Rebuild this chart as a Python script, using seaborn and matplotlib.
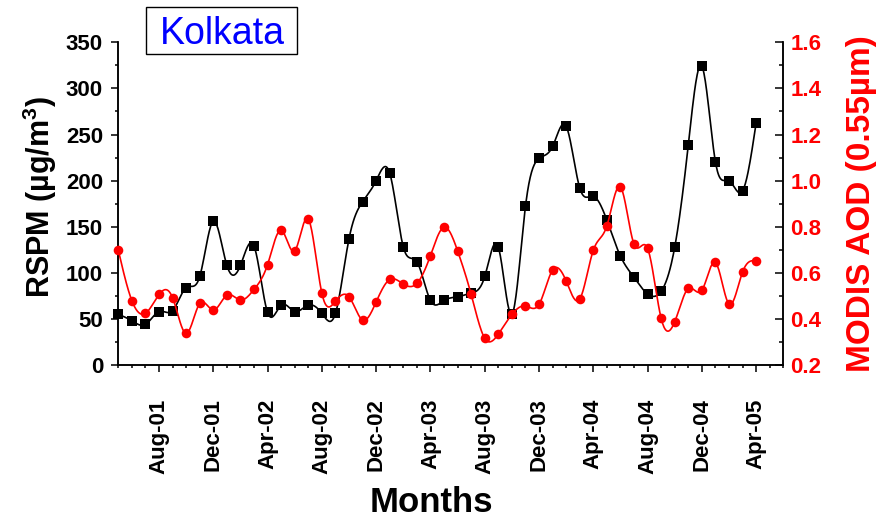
import numpy as np
import pandas as pd
import matplotlib
matplotlib.use("Agg")
import matplotlib.pyplot as plt
from matplotlib.patches import Rectangle
from matplotlib.ticker import MultipleLocator, FixedLocator, FormatStrFormatter
import seaborn as sns

# Monthly observations, May 2001 - Apr 2005
months = pd.date_range("2001-05-01", periods=48, freq="MS")

rspm = [55, 48, 44, 58, 59, 84, 96, 156, 108, 108, 129, 57,
        65, 58, 65, 56, 56, 137, 177, 200, 208, 128, 112, 70,
        70, 74, 78, 96, 128, 55, 172, 224, 237, 259, 192, 183,
        157, 118, 95, 77, 80, 128, 239, 324, 220, 200, 189, 263]

aod = [0.698, 0.479, 0.424, 0.506, 0.492, 0.337, 0.467, 0.438, 0.503, 0.482, 0.528, 0.636,
       0.785, 0.695, 0.834, 0.511, 0.477, 0.496, 0.395, 0.474, 0.571, 0.551, 0.554, 0.675,
       0.798, 0.695, 0.506, 0.316, 0.334, 0.420, 0.456, 0.463, 0.612, 0.564, 0.486, 0.698,
       0.804, 0.973, 0.724, 0.706, 0.402, 0.388, 0.532, 0.524, 0.645, 0.464, 0.604, 0.652]

tick_labels = ["Aug-01", "Dec-01", "Apr-02", "Aug-02", "Dec-02", "Apr-03",
               "Aug-03", "Dec-03", "Apr-04", "Aug-04", "Dec-04", "Apr-05"]

city = "Kolkata"

month_idx = np.arange(len(months))
month_names = [m.strftime("%b-%y") for m in months]
tick_pos = [month_names.index(t) for t in tick_labels]


def smooth_curve(x, y, n=20):
    """Natural cubic spline through equally spaced points, for drawing."""
    x = np.asarray(x, float)
    y = np.asarray(y, float)
    k = len(x)
    h = x[1] - x[0]
    A = np.zeros((k, k))
    b = np.zeros(k)
    A[0, 0] = A[-1, -1] = 1.0
    for i in range(1, k - 1):
        A[i, i - 1], A[i, i], A[i, i + 1] = 1.0, 4.0, 1.0
        b[i] = 6.0 * (y[i + 1] - 2 * y[i] + y[i - 1]) / h**2
    M = np.linalg.solve(A, b)
    xs, ys = [], []
    for i in range(k - 1):
        t = np.linspace(0, h, n, endpoint=False)
        a0 = y[i]
        a1 = (y[i + 1] - y[i]) / h - h * (2 * M[i] + M[i + 1]) / 6
        a2 = M[i] / 2
        a3 = (M[i + 1] - M[i]) / (6 * h)
        xs.append(x[i] + t)
        ys.append(a0 + a1 * t + a2 * t**2 + a3 * t**3)
    xs.append([x[-1]])
    ys.append([y[-1]])
    return np.concatenate(xs), np.concatenate(ys)


sns.set_style("ticks")
plt.rcParams["font.family"] = ["Liberation Sans", "DejaVu Sans"]
plt.rcParams["mathtext.fontset"] = "custom"
plt.rcParams["mathtext.rm"] = "Liberation Sans:bold"
plt.rcParams["mathtext.bf"] = "Liberation Sans:bold"
plt.rcParams["axes.linewidth"] = 1.1
for key in ("text.color", "axes.labelcolor", "axes.edgecolor", "xtick.color", "ytick.color"):
    plt.rcParams[key] = "black"

fig = plt.figure(figsize=(8.77, 5.21), dpi=100)
ax = fig.add_axes([0.1349, 0.2994, 0.7583, 0.6194])
ax2 = ax.twinx()

# RSPM series (left axis)
cx, cy = smooth_curve(month_idx, rspm)
sns.lineplot(x=cx, y=cy, ax=ax, color="black", linewidth=1.2, sort=False, estimator=None)
sns.scatterplot(x=month_idx, y=rspm, ax=ax, marker="s", s=42, color="black",
                linewidth=0, zorder=3, clip_on=False)

# MODIS AOD series (right axis)
cx2, cy2 = smooth_curve(month_idx, aod)
sns.lineplot(x=cx2, y=cy2, ax=ax2, color="#ff0000", linewidth=1.2, sort=False, estimator=None)
sns.scatterplot(x=month_idx, y=aod, ax=ax2, marker="o", s=48, color="#ff0000",
                linewidth=0, zorder=3, clip_on=False)

ax.set_xlim(0, 49)
ax.set_ylim(0, 350)
ax2.set_ylim(0.2, 1.6)

ax.yaxis.set_major_locator(MultipleLocator(50))
ax.yaxis.set_minor_locator(MultipleLocator(25))
ax2.yaxis.set_major_locator(MultipleLocator(0.2))
ax2.yaxis.set_minor_locator(MultipleLocator(0.1))
ax2.yaxis.set_major_formatter(FormatStrFormatter("%.1f"))

ax.xaxis.set_major_locator(FixedLocator(tick_pos))
ax.xaxis.set_minor_locator(MultipleLocator(1))
ax.set_xticklabels(tick_labels, rotation=90, fontsize=16, fontweight="bold")

ax.spines["top"].set_visible(False)
ax2.spines["top"].set_visible(False)
for s in ax2.spines.values():
    s.set_linewidth(1.1)
    s.set_color("black")

ax.tick_params(axis="x", which="major", direction="out", length=5, width=1.1, pad=19)
ax.tick_params(axis="x", which="minor", direction="out", length=2.5, width=1.1)
ax.tick_params(axis="y", which="major", direction="out", length=5, width=1.1, pad=6,
               labelsize=16)
ax.tick_params(axis="y", which="minor", direction="out", length=2.5, width=1.1)
ax2.tick_params(axis="y", which="major", direction="in", length=5.5, width=1.1, pad=5,
                labelsize=16, labelcolor="#ff0000", color="black")
ax2.tick_params(axis="y", which="minor", direction="in", length=3, width=1.1, color="black")
for lab in ax.get_yticklabels() + ax2.get_yticklabels():
    lab.set_fontweight("bold")

ax.set_xlabel("")
ax.set_ylabel("")
ax2.set_ylabel("")

ax.text(-0.118, 0.52, r"RSPM (µg/m$^{3}$)", transform=ax.transAxes, rotation=90,
        ha="center", va="center", fontsize=22, fontweight="bold", color="black")
ax.text(1.118, 0.499, "MODIS AOD (0.55µm)", transform=ax.transAxes, rotation=90,
        ha="center", va="center", fontsize=24, fontweight="bold", color="#ff0000")
fig.text(431.7 / 877, 0.004, "Months", ha="center", va="bottom",
         fontsize=25, fontweight="bold", color="black")

# City name in a framed box
fig.patches.append(Rectangle((145.7 / 877, 1 - 54 / 521), 151.6 / 877, 47.3 / 521,
                             transform=fig.transFigure, facecolor="white",
                             edgecolor="black", linewidth=1.0))
fig.text(222.7 / 877, 1 - 44.3 / 521, city, ha="center", va="baseline",
         fontsize=27, color="#0000ff")

fig.savefig("out.png", dpi=100)
